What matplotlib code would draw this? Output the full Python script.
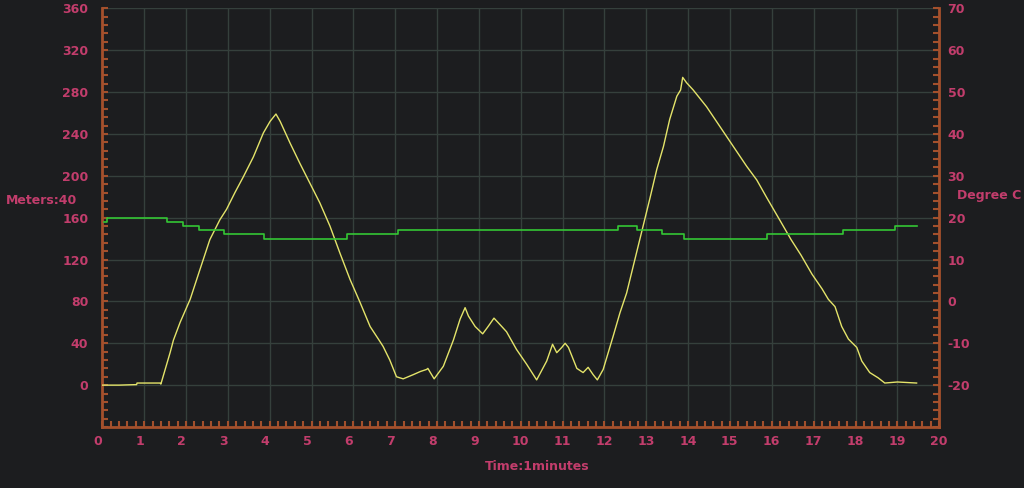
import matplotlib
matplotlib.use('Agg')
import matplotlib.pyplot as plt
from matplotlib.ticker import MultipleLocator
from matplotlib.transforms import ScaledTranslation

plt.rcParams['axes.unicode_minus'] = False

# altitude trace (minutes, meters)
alt_time = [0.0, 0.4, 0.82, 0.83, 1.38, 1.40, 1.62, 1.70, 1.86, 2.10, 2.33, 2.57,
            2.81, 2.97, 3.17, 3.37, 3.61, 3.85, 4.01, 4.15, 4.25, 4.49, 4.72,
            4.96, 5.20, 5.44, 5.68, 5.92, 6.16, 6.40, 6.63, 6.71, 6.87, 7.03,
            7.19, 7.43, 7.60, 7.75, 7.78, 7.93, 8.15, 8.39, 8.55, 8.67, 8.75,
            8.91, 9.09, 9.22, 9.36, 9.50, 9.66, 9.90, 10.14, 10.38, 10.62,
            10.76, 10.86, 10.98, 11.06, 11.14, 11.22, 11.34, 11.49, 11.61,
            11.73, 11.83, 11.97, 12.21, 12.37, 12.53, 12.85, 13.09, 13.25,
            13.41, 13.56, 13.73, 13.82, 13.87, 13.96, 14.12, 14.44, 14.76,
            15.08, 15.40, 15.64, 15.88, 16.20, 16.46, 16.70, 16.96, 17.20,
            17.35, 17.51, 17.67, 17.83, 18.03, 18.15, 18.34, 18.54, 18.70,
            19.00, 19.46]
alt_m = [0, 0, 0.5, 2, 2, 1, 31, 43, 60, 82, 110, 139,
         158, 168, 184, 199, 218, 241, 252, 259, 252, 231, 212,
         193, 174, 152, 126, 101, 79, 56, 42, 37, 24, 8,
         6, 10, 13, 15, 16, 6, 18, 43, 63, 74, 66,
         56, 49, 56, 64, 58, 51, 34, 20, 5, 23,
         39, 31, 36, 40, 36, 28, 16, 12, 17,
         10, 5, 15, 47, 69, 88, 140, 179, 206,
         228, 254, 276, 282, 294, 289, 282, 266, 247,
         228, 209, 196, 179, 157, 139, 124, 106, 92,
         82, 75, 56, 44, 36, 23, 12, 7, 2,
         3, 2]

# temperature steps (minutes, degree C)
temp_time = [0.04, 0.12, 1.54, 1.92, 2.31, 2.92, 3.86, 5.85, 7.06, 12.33,
             12.78, 13.37, 13.91, 15.89, 17.71, 18.94, 19.48]
temp_c = [19, 20, 19, 18, 17, 16, 15, 16, 17, 18,
          17, 16, 15, 16, 17, 18, 18]

bg = '#1c1d1f'
pink = '#c23d6c'
spine_col = '#a4502c'
grid_col = '#35403c'

fig = plt.figure(figsize=(10.24, 4.88), dpi=100, facecolor=bg)
ax = fig.add_axes([0.0999, 0.125, 0.8173, 0.858])
ax.set_facecolor(bg)
ax2 = ax.twinx()
ax2.patch.set_visible(False)

ax.plot(alt_time, alt_m, color='#e4e46a', lw=1.0, zorder=3)
ax2.plot(temp_time, temp_c, color='#34c634', lw=1.2, drawstyle='steps-post', zorder=3)

ax.set_xlim(0, 20)
ax.set_ylim(-40, 360)
ax2.set_ylim(-30, 70)

ax.xaxis.set_major_locator(MultipleLocator(1))
ax.xaxis.set_minor_locator(MultipleLocator(0.2))
ax.yaxis.set_minor_locator(MultipleLocator(8))
ax2.yaxis.set_minor_locator(MultipleLocator(2))
ax.set_yticks(range(0, 361, 40))
ax2.set_yticks(range(-20, 71, 10))

ax.grid(True, which='major', color=grid_col, lw=1.0)
ax.set_axisbelow(True)

for a in (ax, ax2):
    for s in a.spines.values():
        s.set_color(spine_col)
        s.set_linewidth(2)
    a.spines['top'].set_visible(False)
    a.tick_params(which='both', direction='in', color=spine_col, length=4, width=1.5,
                  labelcolor=pink, labelsize=9)
ax.spines['right'].set_visible(False)
ax2.spines['left'].set_visible(False)
ax2.spines['bottom'].set_visible(False)
ax.tick_params(axis='y', pad=10)
ax.tick_params(axis='x', pad=6)
ax2.tick_params(axis='y', pad=6)

for lab in ax.get_xticklabels() + ax.get_yticklabels() + ax2.get_yticklabels():
    lab.set_fontweight('bold')
shift = ScaledTranslation(-0.09, 0, fig.dpi_scale_trans)
for lab in ax.get_xticklabels():
    lab.set_ha('left')
    lab.set_transform(lab.get_transform() + shift)

fig.text(0.006, 1 - 200 / 488, 'Meters:40', color=pink, fontsize=9, fontweight='bold',
         va='center', ha='left')
fig.text(0.935, 1 - 195 / 488, 'Degree C', color=pink, fontsize=9, fontweight='bold',
         va='center', ha='left')
fig.text(537 / 1024, 1 - 467 / 488, 'Time:1minutes', color=pink, fontsize=9,
         fontweight='bold', va='center', ha='center')

fig.savefig('out.png', dpi=100, facecolor=bg)
